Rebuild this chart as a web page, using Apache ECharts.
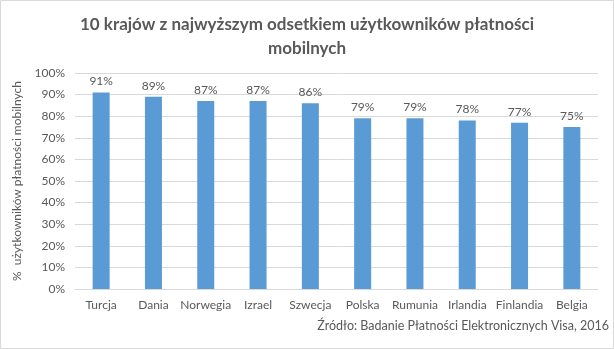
<!DOCTYPE html>
<html><head><meta charset="utf-8">
<script src="https://cdn.jsdelivr.net/npm/echarts@6/dist/echarts.min.js"></script>
<style>html,body{margin:0;padding:0;background:#fff}#c{width:614px;height:349px}</style>
</head><body><div id="c"></div>
<script>
const categories = ['Turcja','Dania','Norwegia','Izrael','Szwecja','Polska','Rumunia','Irlandia','Finlandia','Belgia'];
const values = [91,89,87,87,86,79,79,78,77,75];
const titleText = '10 krajów z najwyższym odsetkiem użytkowników płatności\nmobilnych';
const yAxisName = '%  użytkowników płatności mobilnych';
const sourceText = 'Źródło: Badanie Płatności Elektronicznych Visa, 2016';

const F = 'Lato, "Open Sans", sans-serif';
const chart = echarts.init(document.getElementById('c'));
chart.setOption({
  animation:false,
  textStyle:{fontFamily:F},
  title:{text:titleText,left:'center',top:8,textStyle:{fontSize:17,fontWeight:'bold',color:'#595959',lineHeight:24,fontFamily:F}},
  graphic:[
    {type:'rect',shape:{x:0.5,y:0.5,width:613,height:348},style:{fill:'none',stroke:'#d9d9d9',lineWidth:1}},
    {type:'text',right:5,top:319,style:{text:sourceText,fontSize:12.5,fill:'#595959',fontFamily:F}}
  ],
  grid:{left:75,right:16,top:73,bottom:60},
  xAxis:{type:'category',data:categories,axisLine:{lineStyle:{color:'#d9d9d9'}},axisTick:{show:false},
    axisLabel:{color:'#595959',fontSize:12,margin:10,interval:0}},
  yAxis:{type:'value',min:0,max:100,interval:10,
    name:yAxisName,nameLocation:'middle',nameGap:52,nameRotate:90,
    nameTextStyle:{color:'#595959',fontSize:12},
    axisLabel:{formatter:'{value}%',color:'#595959',fontSize:12,margin:10},
    splitLine:{lineStyle:{color:'#d9d9d9'}},axisLine:{show:false},axisTick:{show:false}},
  series:[{type:'bar',data:values,barWidth:17,itemStyle:{color:'#5b9bd5'},
    label:{show:true,position:'top',formatter:'{c}%',color:'#595959',fontSize:12,distance:5}}]
});
</script></body></html>
